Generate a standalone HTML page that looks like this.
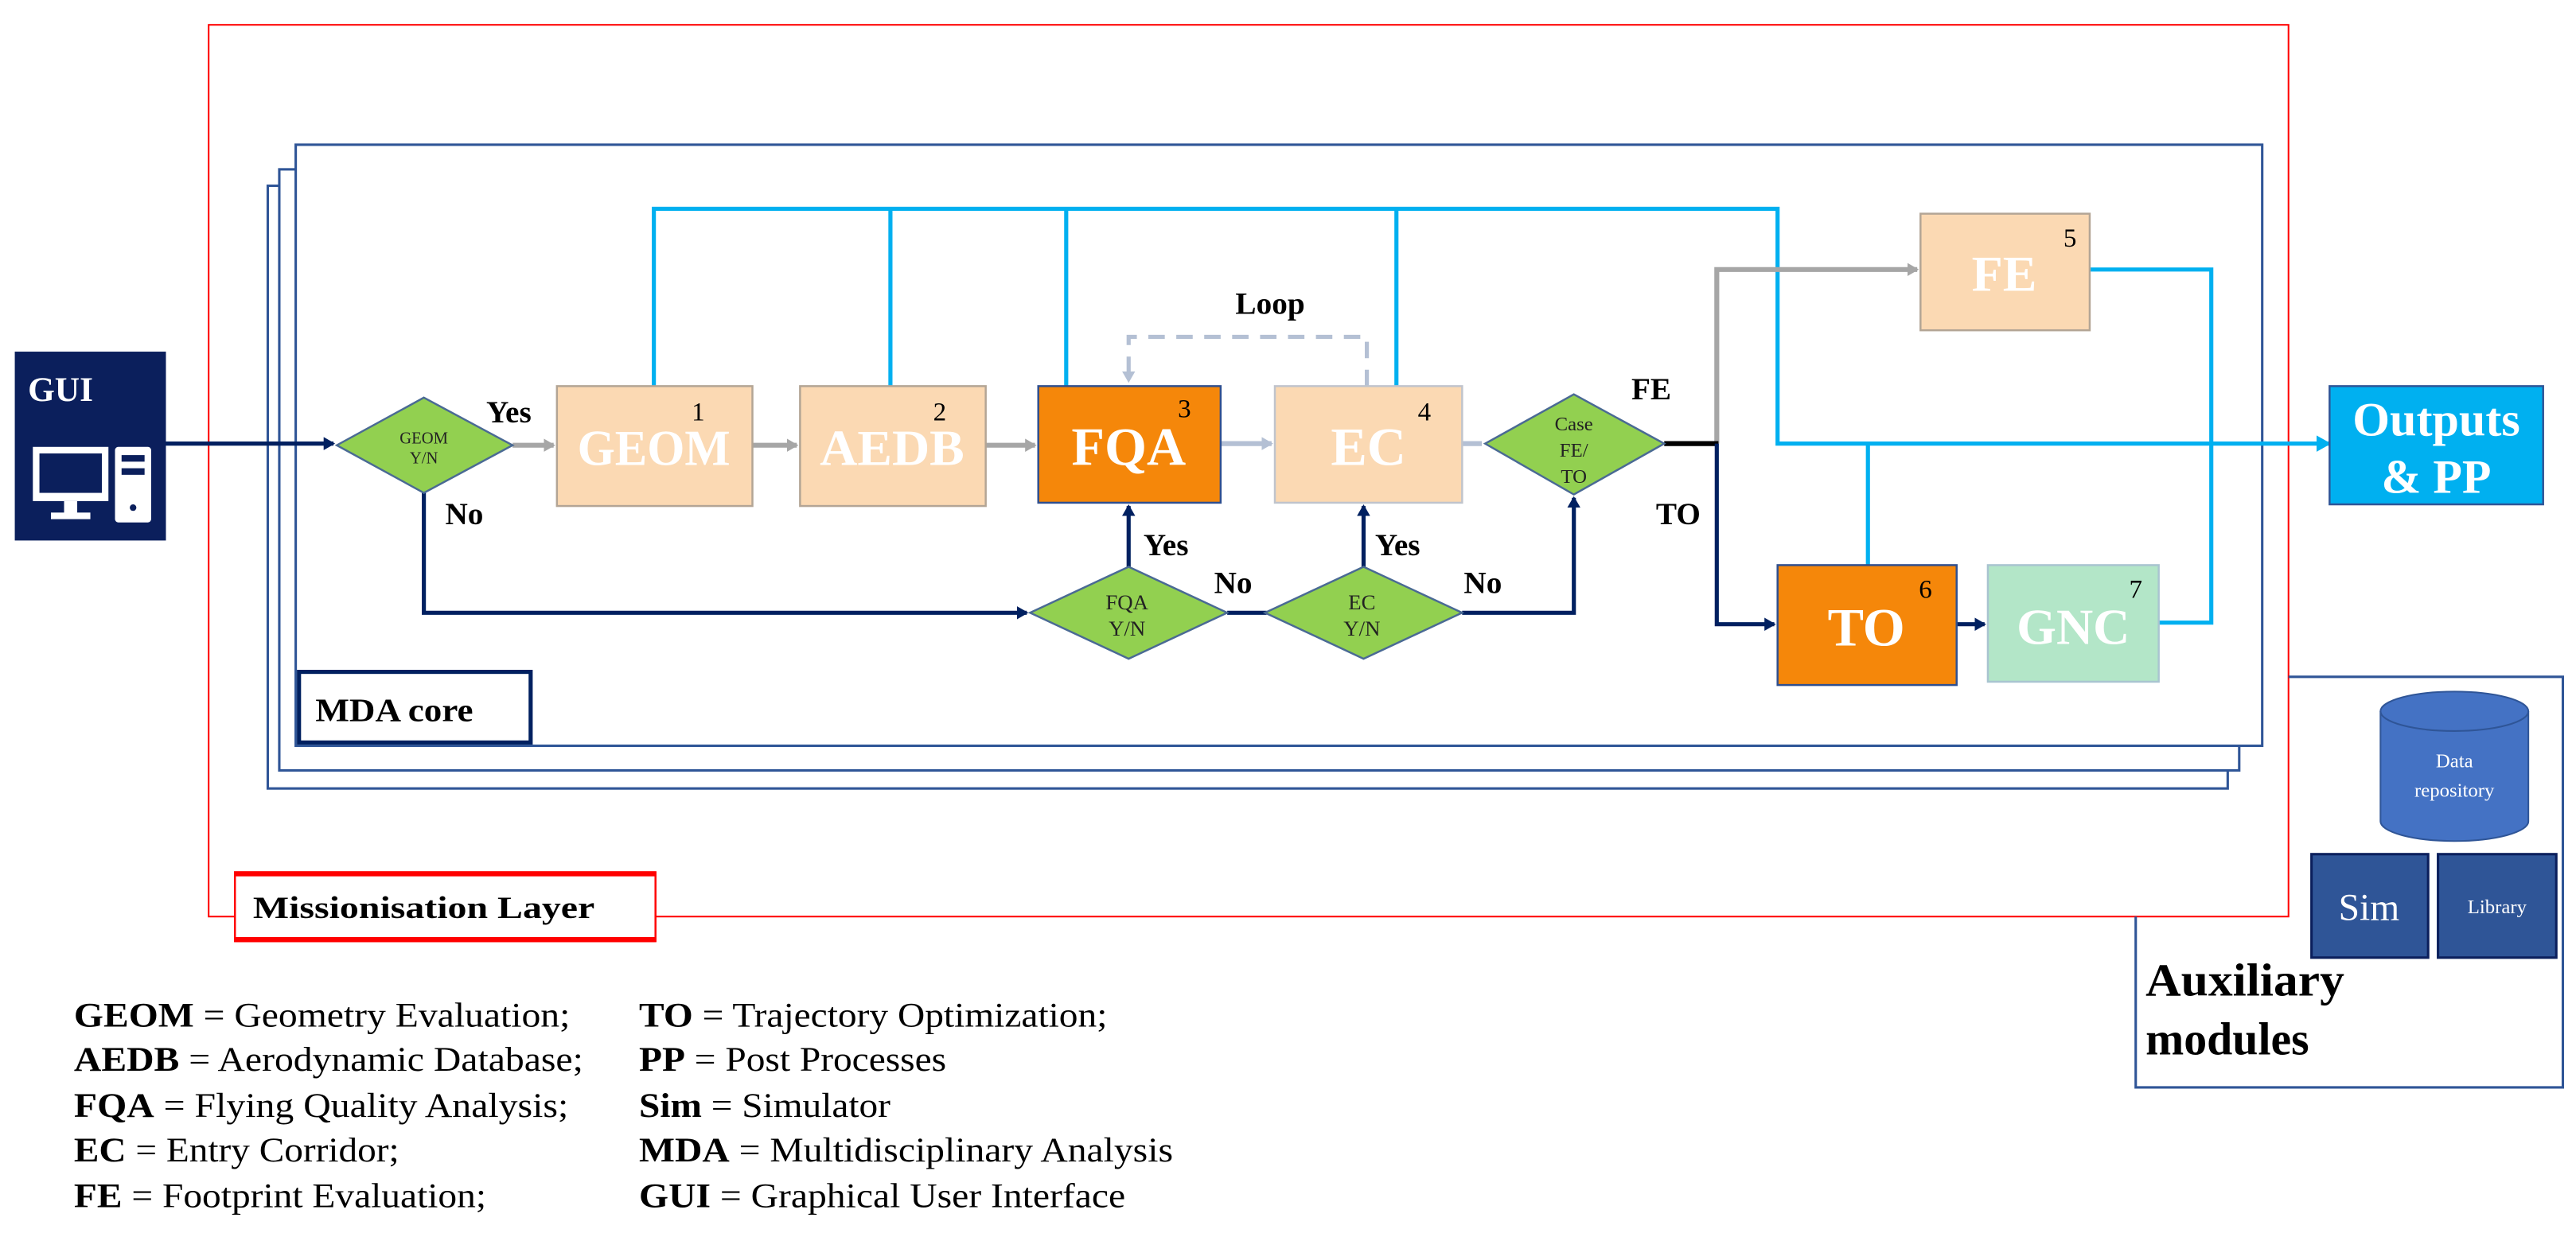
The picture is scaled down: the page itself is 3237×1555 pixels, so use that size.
<!DOCTYPE html>
<html><head><meta charset="utf-8"><style>html,body{margin:0;padding:0;background:#fff}svg{display:block}svg text{font-family:"Liberation Serif","Times New Roman",serif}</style></head>
<body>
<svg width="3237" height="1555" viewBox="0 0 1568 753" xmlns="http://www.w3.org/2000/svg" style="font-family:'Liberation Serif',serif">
<defs>
<marker id="ag" markerWidth="8" markerHeight="8" refX="6" refY="4" orient="auto" markerUnits="userSpaceOnUse"><path d="M0,0 L7,4 L0,8 z" fill="#a6a6a6"/></marker>
<marker id="an" markerWidth="8" markerHeight="8" refX="6" refY="4" orient="auto" markerUnits="userSpaceOnUse"><path d="M0,0 L7,4 L0,8 z" fill="#002060"/></marker>
<marker id="ab" markerWidth="10" markerHeight="10" refX="8" refY="5" orient="auto" markerUnits="userSpaceOnUse"><path d="M0,0 L9,5 L0,10 z" fill="#00b0f0"/></marker>
<marker id="al" markerWidth="8" markerHeight="8" refX="6" refY="4" orient="auto" markerUnits="userSpaceOnUse"><path d="M0,0 L7,4 L0,8 z" fill="#b4c0d4"/></marker>
</defs>

<!-- red missionisation layer -->
<rect x="127" y="15" width="1266" height="543" fill="none" stroke="#ff0000" stroke-width="1"/>

<!-- aux box -->
<path d="M1393,412 L1560,412 L1560,662 L1300,662 L1300,558" fill="none" stroke="#2f5597" stroke-width="1.5"/>

<!-- stack -->
<rect x="163" y="113" width="1193" height="367" fill="#fff" stroke="#2f5597" stroke-width="1.5"/>
<rect x="170" y="103" width="1193" height="366" fill="#fff" stroke="#2f5597" stroke-width="1.5"/>
<rect x="180" y="88" width="1197" height="366" fill="#fff" stroke="#2f5597" stroke-width="1.5"/>

<!-- MDA core -->
<rect x="182" y="409" width="141" height="43" fill="#fff" stroke="#002060" stroke-width="2.5"/>
<text x="192" y="439" font-size="20" font-weight="bold" textLength="96" lengthAdjust="spacingAndGlyphs">MDA core</text>

<!-- Missionisation label -->
<rect x="143" y="531" width="256" height="42" fill="#fff" stroke="#ff0000" stroke-width="1.2"/>
<line x1="143" y1="532" x2="399" y2="532" stroke="#ff0000" stroke-width="3"/>
<line x1="143" y1="572" x2="399" y2="572" stroke="#ff0000" stroke-width="3"/>
<text x="154" y="559" font-size="19" font-weight="bold" textLength="208" lengthAdjust="spacingAndGlyphs">Missionisation Layer</text>

<!-- blue lines -->
<g stroke="#00b0f0" stroke-width="2.5" fill="none">
<polyline points="398,235 398,127 1082,127 1082,270 1418,270" marker-end="url(#ab)"/>
<line x1="542" y1="127" x2="542" y2="235"/>
<line x1="649" y1="127" x2="649" y2="235"/>
<line x1="850" y1="127" x2="850" y2="235"/>
<line x1="1137" y1="270" x2="1137" y2="344"/>
<polyline points="1272,164 1346,164 1346,379 1314,379"/>
</g>

<!-- loop -->
<polyline points="832,235 832,205 687,205 687,232" fill="none" stroke="#b4c0d4" stroke-width="2.5" stroke-dasharray="10,7" marker-end="url(#al)"/>
<text x="752" y="191" font-size="19" font-weight="bold">Loop</text>

<!-- gray arrows -->
<g stroke="#a6a6a6" stroke-width="3" fill="none">
<line x1="312" y1="271" x2="337" y2="271" marker-end="url(#ag)"/>
<line x1="458" y1="271" x2="485" y2="271" marker-end="url(#ag)"/>
<line x1="600" y1="271" x2="630" y2="271" marker-end="url(#ag)"/>
<line x1="743" y1="270" x2="774" y2="270" stroke="#b4c0d4" marker-end="url(#al)"/>
<line x1="890" y1="270" x2="902" y2="270" stroke="#b4c0d4"/>
<polyline points="1045,270 1045,164 1167,164" marker-end="url(#ag)"/>
</g>
<line x1="1013" y1="270" x2="1046" y2="270" stroke="#000" stroke-width="3"/>

<!-- navy lines -->
<g stroke="#002060" stroke-width="2.5" fill="none">
<line x1="101" y1="270" x2="203" y2="270" marker-end="url(#an)"/>
<polyline points="258,300 258,373 625,373" marker-end="url(#an)"/>
<line x1="687" y1="345" x2="687" y2="308" marker-end="url(#an)"/>
<line x1="747" y1="373" x2="771" y2="373"/>
<line x1="830" y1="345" x2="830" y2="308" marker-end="url(#an)"/>
<polyline points="890,373 958,373 958,303" marker-end="url(#an)"/>
<polyline points="1045,270 1045,380 1080,380" marker-end="url(#an)"/>
<line x1="1191" y1="380" x2="1208" y2="380" marker-end="url(#an)"/>
</g>

<!-- GUI -->
<rect x="9" y="214" width="92" height="115" fill="#0b1f5c"/>
<text x="17" y="244" font-size="21" font-weight="bold" fill="#fff">GUI</text>
<rect x="20" y="272" width="46" height="33" fill="#fff"/>
<rect x="24" y="276" width="38" height="24" fill="#0b1f5c"/>
<rect x="39" y="305" width="8" height="8" fill="#fff"/>
<rect x="31" y="312" width="24" height="4" fill="#fff"/>
<rect x="70" y="272" width="22" height="46" rx="2" fill="#fff"/>
<rect x="74" y="277" width="14" height="4" fill="#0b1f5c"/>
<rect x="74" y="285" width="14" height="4" fill="#0b1f5c"/>
<circle cx="81" cy="309" r="2" fill="#0b1f5c"/>

<!-- diamonds -->
<g fill="#92d050" stroke="#4a6a94" stroke-width="1.2">
<polygon points="258,242 312,271 258,300 205,271"/>
<polygon points="687,345 747,373 687,401 627,373"/>
<polygon points="830,345 890,373 830,401 770,373"/>
<polygon points="958,240 1013,270 958,301 904,270"/>
</g>
<g fill="#222" text-anchor="middle">
<text x="258" y="270" font-size="10">GEOM</text><text x="258" y="282" font-size="10">Y/N</text>
<text x="686" y="371" font-size="13">FQA</text><text x="686" y="387" font-size="13">Y/N</text>
<text x="829" y="371" font-size="13">EC</text><text x="829" y="387" font-size="13">Y/N</text>
<text x="958" y="262" font-size="12">Case</text><text x="958" y="278" font-size="12">FE/</text><text x="958" y="294" font-size="12">TO</text>
</g>

<!-- boxes -->
<g stroke-width="1.2">
<rect x="339" y="235" width="119" height="73" fill="#fbd9b3" stroke="#b3a595"/>
<rect x="487" y="235" width="113" height="73" fill="#fbd9b3" stroke="#b3a595"/>
<rect x="632" y="235" width="111" height="71" fill="#f5870a" stroke="#2f4f8f"/>
<rect x="776" y="235" width="114" height="71" fill="#fbd9b3" stroke="#c0c4cc"/>
<rect x="1169" y="130" width="103" height="71" fill="#fbd9b3" stroke="#b3a595"/>
<rect x="1082" y="344" width="109" height="73" fill="#f5870a" stroke="#2f4f8f"/>
<rect x="1210" y="344" width="104" height="71" fill="#b3e6c8" stroke="#a9c4d0"/>
<rect x="1418" y="235" width="130" height="72" fill="#00b0f0" stroke="#2f5597"/>
</g>
<g fill="#fff" font-weight="bold" text-anchor="middle">
<text x="398" y="283" font-size="31" textLength="93" lengthAdjust="spacingAndGlyphs">GEOM</text>
<text x="543" y="283" font-size="31" textLength="88" lengthAdjust="spacingAndGlyphs">AEDB</text>
<text x="687" y="283" font-size="33">FQA</text>
<text x="833" y="283" font-size="33">EC</text>
<text x="1220" y="177" font-size="31">FE</text>
<text x="1136" y="393" font-size="33">TO</text>
<text x="1262" y="392" font-size="31">GNC</text>
<text x="1483" y="265" font-size="29" textLength="102" lengthAdjust="spacingAndGlyphs">Outputs</text>
<text x="1483" y="300" font-size="29">&amp; PP</text>
</g>
<g font-size="16" fill="#000">
<text x="421" y="256">1</text><text x="568" y="256">2</text><text x="717" y="254">3</text>
<text x="863" y="256">4</text><text x="1256" y="150">5</text><text x="1168" y="364">6</text><text x="1296" y="364">7</text>
</g>

<!-- labels -->
<g font-size="19" font-weight="bold">
<text x="296" y="257">Yes</text>
<text x="271" y="319">No</text>
<text x="696" y="338">Yes</text>
<text x="739" y="361">No</text>
<text x="837" y="338">Yes</text>
<text x="891" y="361">No</text>
<text x="993" y="243">FE</text>
<text x="1008" y="319">TO</text>
</g>

<!-- aux -->
<path d="M1449,433 L1449,500 A45,12 0 0 0 1539,500 L1539,433" fill="#4472c4" stroke="#2f5597" stroke-width="1"/>
<ellipse cx="1494" cy="433" rx="45" ry="12" fill="#4472c4" stroke="#2f5597" stroke-width="1"/>
<text x="1494" y="467" font-size="12" fill="#fff" text-anchor="middle">Data</text>
<text x="1494" y="485" font-size="12" fill="#fff" text-anchor="middle">repository</text>
<rect x="1407" y="520" width="71" height="63" fill="#2f5597" stroke="#0b1f5c" stroke-width="1.5"/>
<rect x="1484" y="520" width="72" height="63" fill="#2f5597" stroke="#0b1f5c" stroke-width="1.5"/>
<text x="1442" y="560" font-size="23" fill="#fff" text-anchor="middle">Sim</text>
<text x="1520" y="556" font-size="12" fill="#fff" text-anchor="middle">Library</text>
<text x="1306" y="606" font-size="28" font-weight="bold" textLength="121" lengthAdjust="spacingAndGlyphs">Auxiliary</text>
<text x="1306" y="642" font-size="28" font-weight="bold">modules</text>

<!-- legend -->
<g font-size="21">
<text x="45" y="625" textLength="302" lengthAdjust="spacingAndGlyphs"><tspan font-weight="bold">GEOM</tspan> = Geometry Evaluation;</text>
<text x="45" y="652" textLength="310" lengthAdjust="spacingAndGlyphs"><tspan font-weight="bold">AEDB</tspan> = Aerodynamic Database;</text>
<text x="45" y="680" textLength="301" lengthAdjust="spacingAndGlyphs"><tspan font-weight="bold">FQA</tspan> = Flying Quality Analysis;</text>
<text x="45" y="707" textLength="198" lengthAdjust="spacingAndGlyphs"><tspan font-weight="bold">EC</tspan> = Entry Corridor;</text>
<text x="45" y="735" textLength="251" lengthAdjust="spacingAndGlyphs"><tspan font-weight="bold">FE</tspan> = Footprint Evaluation;</text>
<text x="389" y="625" textLength="285" lengthAdjust="spacingAndGlyphs"><tspan font-weight="bold">TO</tspan> = Trajectory Optimization;</text>
<text x="389" y="652" textLength="187" lengthAdjust="spacingAndGlyphs"><tspan font-weight="bold">PP</tspan> = Post Processes</text>
<text x="389" y="680" textLength="153" lengthAdjust="spacingAndGlyphs"><tspan font-weight="bold">Sim</tspan> = Simulator</text>
<text x="389" y="707" textLength="325" lengthAdjust="spacingAndGlyphs"><tspan font-weight="bold">MDA</tspan> = Multidisciplinary Analysis</text>
<text x="389" y="735" textLength="296" lengthAdjust="spacingAndGlyphs"><tspan font-weight="bold">GUI</tspan> = Graphical User Interface</text>
</g>
</svg>
</body></html>
